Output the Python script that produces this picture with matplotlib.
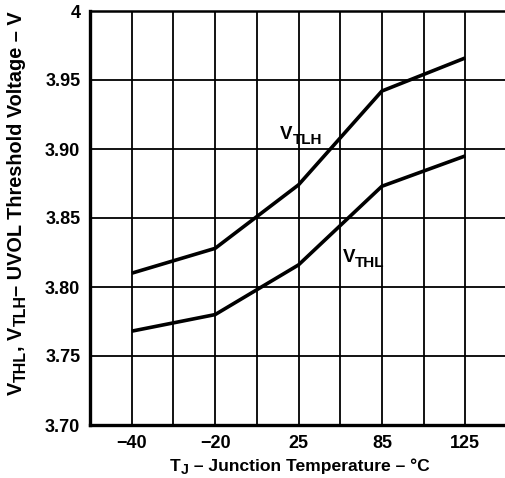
import matplotlib
matplotlib.use("Agg")
import matplotlib.pyplot as plt
from matplotlib.transforms import IdentityTransform

# Junction temperature categories (°C) and threshold voltages (V)
temps = ["\u221240", "\u221220", "25", "85", "125"]
v_tlh = [3.810, 3.828, 3.874, 3.942, 3.966]
v_thl = [3.768, 3.780, 3.816, 3.873, 3.895]
y_ticks = [3.70, 3.75, 3.80, 3.85, 3.90, 3.95, 4.00]
y_tick_labels = ["3.70", "3.75", "3.80", "3.85", "3.90", "3.95", "4"]

plt.rcParams["font.family"] = ["Liberation Sans", "DejaVu Sans"]
plt.rcParams["font.weight"] = "bold"

W, H = 505, 478
fig = plt.figure(figsize=(W / 100, H / 100), dpi=100)
left, right, top, bottom = 90, 507, 11, 425
ax = fig.add_axes([left / W, (H - bottom) / H, (right - left) / W, (bottom - top) / H])

x = list(range(len(temps)))
ax.plot(x, v_tlh, color="black", lw=2.6, solid_joinstyle="round", solid_capstyle="butt", zorder=3)
ax.plot(x, v_thl, color="black", lw=2.6, solid_joinstyle="round", solid_capstyle="butt", zorder=3)

ax.set_xlim(-0.5, len(temps) - 0.5)
ax.set_ylim(3.70, 4.00)

ax.set_xticks(x)
ax.set_xticklabels(temps)
ax.set_xticks([i + 0.5 for i in x[:-1]], minor=True)
ax.set_yticks(y_ticks)
ax.set_yticklabels(y_tick_labels)

ax.grid(True, which="both", axis="x", color="black", lw=1.3)
ax.grid(True, which="major", axis="y", color="black", lw=1.3)
ax.tick_params(which="both", length=0, labelsize=13, pad=7)
for lbl in ax.get_xticklabels() + ax.get_yticklabels():
    lbl.set_fontweight("bold")

for side in ["left", "bottom"]:
    ax.spines[side].set_linewidth(2.4)
ax.spines["top"].set_linewidth(1.8)
ax.spines["right"].set_visible(False)

renderer = fig.canvas.get_renderer()


def chunked_text(x0, y0, chunks, vertical=False):
    """Draw a run of text pieces (text, size, drop in px) starting at a
    baseline point given in display pixels; drop lowers subscripts."""
    pos = x0 if not vertical else y0
    for s, size, drop in chunks:
        if vertical:
            t = fig.text(x0 + drop, pos, s, fontsize=size, fontweight="bold",
                         rotation=90, rotation_mode="anchor", ha="left", va="baseline",
                         transform=IdentityTransform())
            pos += t.get_window_extent(renderer).height
        else:
            t = fig.text(pos, y0 - drop, s, fontsize=size, fontweight="bold",
                         ha="left", va="baseline", transform=IdentityTransform())
            pos += t.get_window_extent(renderer).width


# axis titles with full-size subscripts
chunked_text(170, H - 471, [("T", 12.6, 0), ("J", 10.2, 3),
                            (" \u2013 Junction Temperature \u2013 \u00b0C", 12.6, 0)])
chunked_text(22, H - 395, [("V", 14.3, 0), ("THL", 11.5, 4), (", V", 14.3, 0), ("TLH", 11.5, 4),
                           ("\u2013 UVOL Threshold Voltage \u2013 V", 14.3, 0)], vertical=True)

# curve labels
px, py = ax.transData.transform((1.78, 3.907))
chunked_text(px, py, [("V", 13.5, 0), ("TLH", 11, 5)])
px, py = ax.transData.transform((2.53, 3.818))
chunked_text(px, py, [("V", 13.5, 0), ("THL", 11, 5)])

fig.savefig("out.png", dpi=100)
